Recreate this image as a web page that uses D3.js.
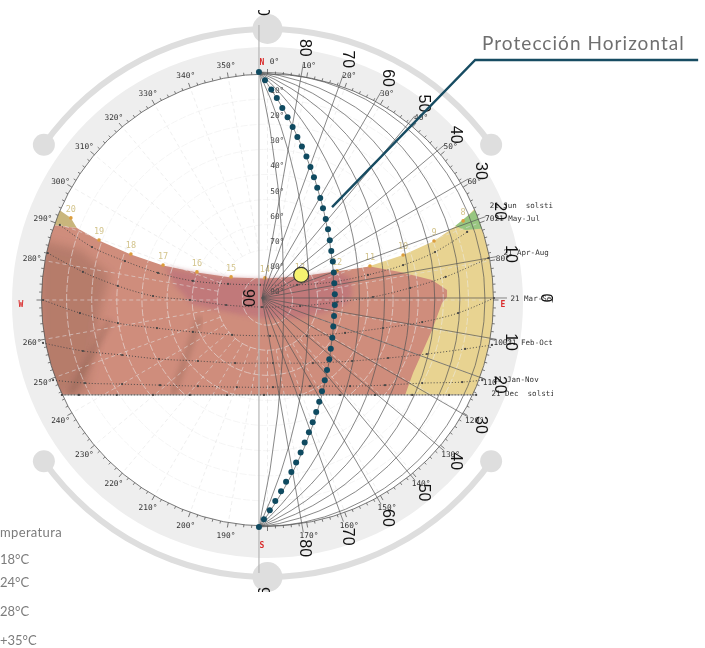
<!DOCTYPE html>
<html>
<head>
<meta charset="utf-8">
<script src="https://cdn.jsdelivr.net/npm/d3@7"></script>
<style>
  html, body { margin: 0; padding: 0; background: #fff; overflow: hidden; }
</style>
</head>
<body>
<div id="chart"></div>
<script>
const dateLabels = ["21 Jun  solstice", "21 May-Jul", "21 Apr-Aug", "21 Mar-Sep", "21 Feb-Oct", "21 Jan-Nov", "21 Dec  solstice"];
const dateLabelX = [88.5, 90.5, 94, 96.8, 95.6, 90, 89.2];
const dateLabelY = [36.6, 31.5, 17.9, -0.4, -17.9, -32.7, -38.2];

const hourLabels = [20, 19, 18, 17, 16, 15, 14, 13, 12, 11, 10, 9, 8];
const junPath = [[-78.3,32.7],[-67.1,23.9],[-54.4,18.3],[-41.6,13.9],[-28.1,11.2],[-14.5,9.2],[-1,8.8],[12.9,9.6],[27.7,11.6],[40.8,13.5],[54,17.9],[66.3,23.5],[77.9,31.5]];
const mayPath = [[-82.7,29.9],[-69.9,21.1],[-56.8,15.5],[-43.6,10.8],[-29.7,7.6],[-15.7,6.4],[-3,6],[11.8,6],[26.1,7.2],[40,10],[54,13.9],[66.7,19.1],[79.5,27.1]];
const aprPath = [[-87.5,18.7],[-73.5,11.2],[-59.6,5.6],[-45.6,1.6],[-30.9,0],[-16.5,-2],[-2.2,-2.8],[13,-2.4],[27.7,-0.8],[42,1.2],[56.8,4.8],[70.9,9.2],[88,16.7]];
const marPath = [[-89.4,0],[-74.7,-5.2],[-59.6,-9.2],[-44,-11.2],[-29.7,-12.7],[-14.1,-13.9],[1,-14.3],[15.7,-14.3],[30.9,-13.1],[46,-11.2],[61.6,-8.8],[75.9,-5.2],[90.2,0.8]];
const febPath = [[-89.4,-17.1],[-73.5,-20.3],[-57.9,-21.9],[-43.2,-23.5],[-27.7,-24.3],[-12.9,-25.1],[2.2,-25.1],[18.1,-25.1],[33.7,-24.3],[48,-23.1],[63.5,-21.5],[78.7,-19.5],[89.4,-17.9]];
const janPath = [[-85.4,-31.9],[-72.7,-33.1],[-57.9,-33.5],[-42.8,-33.9],[-27.7,-34.3],[-12.2,-34.7],[2.2,-34.7],[16.9,-34.3],[32.9,-34.3],[46.8,-33.9],[61.6,-33.1],[77.5,-32.7],[85.5,-31.9]];
const decPath = [[-81.9,-37.8],[-75.1,-37.8],[-60,-37.8],[-45.6,-37.8],[-30.9,-37.8],[-16.1,-37.8],[-1.4,-37.8],[12.9,-37.8],[28.9,-37.8],[42.8,-37.8],[57.6,-37.8],[72.3,-37.8],[83.1,-37.8]];

// the yellow only shows east of the red, so it stays under the red edge on the west side
const yellowZone = [[-80,20],[-54.4,16],[-28.1,9],[-1,7],[27.7,10],[40.8,13.5],[54,17.9],[66.3,23.5],[77.9,31.5],[84,38],[95,42],[95,-37.8],[-80,-37.8]];
const redZone = [[-94.6,29.9],[-85.4,29.9],[-75.9,28.7],[-67.1,23.7],[-54.4,18.1],[-41.6,13.7],[-28.1,11],[-14.5,9],[-1,8.6],[12.9,9.4],[27.7,11.4],[40.8,13.3],[52.8,11.2],[65.5,8],[71.5,4],[71.5,1.2],[69.5,-1.2],[65.5,-12],[60.8,-22.7],[58,-29],[54.8,-37.8],[-94.6,-37.8]];
const mauveZone = [[-40.8,13.1],[-28.1,10.7],[-14.5,8.7],[-1,8.3],[12.9,9.1],[27.7,11.1],[32.9,9.2],[33.7,2],[31.7,-1.2],[23.7,-4.8],[12.9,-7.2],[-3,-7.2],[-13.7,-5.2],[-29.7,-2],[-36.9,6]];
const greenZone = [[74.7,29.5],[82.7,35.9],[88.6,28.7],[78.7,27.9]];
const tanZone = [[-95,42],[-86,38],[-78.3,32.7],[-75.9,28.7],[-85.4,29.9],[-94.6,29.9]];
const darkShade = [[-90.6,23.9],[-74.7,19.9],[-62.7,10],[-66.7,-4],[-68.7,-19.9],[-72.7,-37.8],[-90.6,-37.8]];
const shadeStreaks = [[[-26.9,-6.8],[-37.7,-37.8]], [[-62.7,-8],[-78.7,-37.8]]];

// dotted "Proteccion Horizontal" curve
const protectionDots = [[-3.4,90.8],[-1,87.5],[1.5,83.8],[3.7,80.4],[5.9,76.5],[8,72.8],[10,68.9],[11.9,64.9],[13.7,61.1],[15.5,57.1],[17.1,53],[18.5,48.9],[19.8,44.7],[21,40.6],[22.1,36.5],[23.2,32.3],[24.1,28.2],[24.8,23.8],[25.4,19.5],[26,15.3],[26.4,11],[26.6,6.7],[26.8,2.3],[26.8,-2],[26.5,-6.4],[26.2,-10.6],[25.8,-15],[25.2,-19.4],[24.6,-23.6],[23.7,-27.9],[22.8,-32],[21.7,-36.3],[20.6,-40.5],[19.4,-44.6],[18,-48.7],[16.5,-52.7],[14.8,-56.7],[13.2,-60.7],[11.4,-64.7],[9.5,-68.5],[7.4,-72.4],[5.4,-76.2],[3.1,-80],[0.9,-83.7],[-1.4,-87.3],[-3.4,-90.4]];

const azimuthLabels = d3.range(0, 360, 10).filter(d => d !== 90 && d !== 180 && d !== 270);
const compassLabels = ["N", "E", "S", "W"];
const altitudeLabels = [10, 20, 30, 40, 50, 60, 70, 80, 90];
const protractorAngles = [80, 70, 60, 50, 40, 30, 20, 10, 0, -10, -20, -30, -40, -50, -60, -70, -80];
const arcCrossings = [10, 20, 30, 40, 50, 60, 70, 80, 90];
const gridCircles = [10, 20, 30, 40, 50, 60, 70, 80];
const legendLabels = ["18°C", "24°C", "28°C", "+35°C"];
const legendY = [564, 587, 616, 645];

const width = 705;
const height = 648;
const cx = 267.5;
const cy = 300;
const chartR = 226;

const x = d3.scaleLinear().domain([-90, 90]).range([cx - chartR, cx + chartR]);
const y = d3.scaleLinear().domain([-90, 90]).range([cy + chartR, cy - chartR]);
const r = d3.scaleLinear().domain([0, 90]).range([0, chartR]);

// protractor overlay sits a little off the main chart centre
const overlayX = x(-2.2);
const overlayY = y(0.8);
const northX = x(-3.4);

const svg = d3.select("#chart")
    .append("svg")
    .attr("width", width)
    .attr("height", height)
    .style("display", "block");

const defs = svg.append("defs");
defs.append("clipPath").attr("id", "disc")
    .append("circle").attr("cx", cx).attr("cy", cy).attr("r", chartR);
defs.append("clipPath").attr("id", "aboveDec")
    .append("rect").attr("x", 0).attr("y", 0).attr("width", width).attr("height", y(-37.8));
defs.append("clipPath").attr("id", "page")
    .append("rect").attr("x", 0).attr("y", 10).attr("width", 553).attr("height", 582);
defs.append("filter").attr("id", "soft4").append("feGaussianBlur").attr("stdDeviation", 5);
defs.append("filter").attr("id", "soft2").append("feGaussianBlur").attr("stdDeviation", 2.5);
defs.append("filter").attr("id", "soft1").append("feGaussianBlur").attr("stdDeviation", 0.7);
defs.append("filter").attr("id", "raster").append("feGaussianBlur").attr("stdDeviation", 0.3);

// outer handles and arcs
const outerR = 274;
const outerCy = 303;
const arcGen = d3.arc().innerRadius(outerR - 3).outerRadius(outerR + 3);
const handleAngle = 54.7 * Math.PI / 180;
const handles = svg.append("g").attr("transform", `translate(${cx},${outerCy})`).attr("fill", "#dedede");
handles.append("path").attr("d", arcGen({ startAngle: -handleAngle, endAngle: handleAngle }));
handles.append("path").attr("d", arcGen({ startAngle: Math.PI - handleAngle, endAngle: Math.PI + handleAngle }));
[0, Math.PI].forEach(a => {
    handles.append("circle").attr("cx", 0).attr("cy", -outerR * Math.cos(a)).attr("r", 15);
});
[-handleAngle, handleAngle, Math.PI - handleAngle, Math.PI + handleAngle].forEach(a => {
    handles.append("circle").attr("cx", outerR * Math.sin(a)).attr("cy", -outerR * Math.cos(a)).attr("r", 11);
});

// light ring
svg.append("circle").attr("cx", cx).attr("cy", cy + 2.5).attr("r", 255.5).attr("fill", "#eeeeee");
svg.append("circle").attr("cx", cx).attr("cy", cy).attr("r", chartR).attr("fill", "#fff");

const chart = svg.append("g").attr("filter", "url(#raster)");
const zonesOuter = chart.append("g").attr("clip-path", "url(#aboveDec)");
const zones = zonesOuter.append("g").attr("clip-path", "url(#disc)");
const poly = d3.line().x(d => x(d[0])).y(d => y(d[1]));

zones.append("path").attr("d", poly(yellowZone) + "Z").attr("fill", "#e8d391");
zones.append("path").attr("d", poly(tanZone) + "Z").attr("fill", "#c9b67b");
zones.append("path").attr("d", poly(greenZone) + "Z").attr("fill", "#98c680");
zones.append("path").attr("d", poly(redZone) + "Z").attr("fill", "#cf8d7b").attr("filter", "url(#soft1)");
zones.append("path").attr("d", poly(mauveZone) + "Z").attr("fill", "#bb717a").attr("filter", "url(#soft2)").attr("opacity", 0.7);
zones.append("path").attr("d", poly(darkShade) + "Z").attr("fill", "#7d5546").attr("filter", "url(#soft4)").attr("opacity", 0.3);
shadeStreaks.forEach(s => {
    zones.append("path").attr("d", poly(s))
        .attr("fill", "none")
        .attr("stroke", "#6d4c40")
        .attr("stroke-width", 7)
        .attr("opacity", 0.22)
        .attr("filter", "url(#soft2)");
});
// zones stop at the Dec path, everything under it stays white
chart.append("line")
    .attr("x1", x(-81.9)).attr("x2", x(83.1))
    .attr("y1", y(-37.8)).attr("y2", y(-37.8))
    .attr("stroke", "#9a9a9a").attr("stroke-width", 1);

// dashed base grid
const grid = chart.append("g").attr("clip-path", "url(#disc)").attr("fill", "none");
gridCircles.forEach(d => {
    grid.append("circle").attr("cx", cx).attr("cy", cy).attr("r", r(d))
        .attr("stroke", "#ececec").attr("stroke-width", 1).attr("stroke-dasharray", "7,2").attr("opacity", 0.55);
});
d3.range(0, 360, 10).forEach(d => {
    const a = d * Math.PI / 180;
    grid.append("line")
        .attr("x1", cx + r(20) * Math.sin(a)).attr("y1", cy - r(20) * Math.cos(a))
        .attr("x2", cx + chartR * Math.sin(a)).attr("y2", cy - chartR * Math.cos(a))
        .attr("stroke", "#e2e2e2").attr("stroke-width", 1).attr("stroke-dasharray", "4,3").attr("opacity", 0.55);
});

// rim and ticks
chart.append("circle").attr("cx", cx).attr("cy", cy).attr("r", chartR)
    .attr("fill", "none").attr("stroke", "#555").attr("stroke-width", 0.8);
d3.range(0, 360, 2).forEach(d => {
    const a = d * Math.PI / 180;
    const len = d % 10 === 0 ? 5 : 2.5;
    chart.append("line")
        .attr("x1", cx + chartR * Math.sin(a)).attr("y1", cy - chartR * Math.cos(a))
        .attr("x2", cx + (chartR + len) * Math.sin(a)).attr("y2", cy - (chartR + len) * Math.cos(a))
        .attr("stroke", "#444").attr("stroke-width", 0.7);
});

// sun paths
const curve = d3.line().x(d => x(d[0])).y(d => y(d[1])).curve(d3.curveCatmullRom);
const allPaths = [junPath, mayPath, aprPath, marPath, febPath, janPath, decPath];
allPaths.forEach((p, i) => {
    if (i > 0) {
        chart.append("path").attr("d", curve(p))
            .attr("fill", "none").attr("stroke", "#444").attr("stroke-width", 0.9).attr("stroke-dasharray", "1,2");
        chart.selectAll(null).data(p).join("circle")
            .attr("cx", d => x(d[0])).attr("cy", d => y(d[1])).attr("r", 1.1).attr("fill", "#444");
    }
});
chart.selectAll(null).data(junPath).join("circle")
    .attr("cx", d => x(d[0])).attr("cy", d => y(d[1])).attr("r", 1.8).attr("fill", "#dc9d3c");
chart.selectAll(null).data(junPath).join("text")
    .attr("x", d => x(d[0]))
    .attr("y", d => y(d[1]) - 6)
    .attr("text-anchor", "middle")
    .attr("font-family", "'DejaVu Sans Mono', monospace")
    .attr("font-size", 8.5)
    .attr("fill", "#d3c48c")
    .text((d, i) => hourLabels[i]);

// azimuth labels
chart.selectAll(null).data(azimuthLabels).join("text")
    .attr("x", d => cx + (d === 0 ? 7 : 0) + 239 * Math.sin(d * Math.PI / 180))
    .attr("y", d => cy + 3 - 239 * Math.cos(d * Math.PI / 180))
    .attr("text-anchor", "middle")
    .attr("font-family", "'DejaVu Sans Mono', monospace")
    .attr("font-size", 7.8)
    .attr("fill", "#333")
    .text(d => d + "°");
chart.selectAll(null).data(compassLabels).join("text")
    .attr("x", (d, i) => [cx - 5.5, cx + 235.5, cx - 5.5, cx - 246.5][i])
    .attr("y", (d, i) => cy + 3 - [238, -4, -245, -4][i])
    .attr("text-anchor", "middle")
    .attr("font-family", "'DejaVu Sans Mono', monospace")
    .attr("font-size", 8)
    .attr("font-weight", "bold")
    .attr("fill", "#d92b2b")
    .text(d => d);

// altitude labels along the north line
chart.selectAll(null).data(altitudeLabels).join("text")
    .attr("x", x(3.9))
    .attr("y", d => y(93.6 - d) + 3)
    .attr("text-anchor", "middle")
    .attr("font-family", "'DejaVu Sans Mono', monospace")
    .attr("font-size", 7.8)
    .attr("fill", "#444")
    .text(d => d + "°");

// date labels, cut by the edge of the image they came from
const labelsGroup = svg.append("g").attr("clip-path", "url(#page)").attr("filter", "url(#raster)");
labelsGroup.selectAll(null).data(dateLabels).join("text")
    .attr("x", (d, i) => x(dateLabelX[i]))
    .attr("y", (d, i) => y(dateLabelY[i]))
    .attr("font-family", "'DejaVu Sans Mono', monospace")
    .attr("font-size", 7.5)
    .attr("fill", "#333")
    .style("white-space", "pre")
    .text(d => d);

// protractor overlay: radial lines and N-S arcs
const overlay = svg.append("g").attr("fill", "none");
protractorAngles.forEach(a => {
    const rad = a * Math.PI / 180;
    const len = a === 0 ? 245 : 238;
    overlay.append("line")
        .attr("x1", overlayX).attr("y1", overlayY)
        .attr("x2", overlayX + len * Math.cos(rad))
        .attr("y2", overlayY - len * Math.sin(rad))
        .attr("stroke", "#555").attr("stroke-width", 0.7);
});
const north = y(90.8);
const south = y(-90.4);
const halfH = (south - north) / 2;
arcCrossings.forEach(d => {
    const dx = x(d) - x(0);
    const rr = (halfH * halfH + dx * dx) / (2 * dx);
    overlay.append("path")
        .attr("d", `M${northX},${north}A${rr},${rr} 0 0 1 ${northX},${south}`)
        .attr("stroke", "#555").attr("stroke-width", 0.7);
});
overlay.append("line")
    .attr("x1", northX).attr("x2", northX)
    .attr("y1", 25).attr("y2", 573)
    .attr("stroke", "#b5b5b5").attr("stroke-width", 1.2);

// protractor numbers
const protractorText = svg.append("g").attr("clip-path", "url(#page)");
const numberFont = "'Liberation Sans', Arial, sans-serif";
function protractorLabel(px, py, label) {
    protractorText.append("text")
        .attr("transform", `translate(${px},${py}) rotate(90)`)
        .attr("text-anchor", "middle")
        .attr("dy", "0.36em")
        .attr("font-family", numberFont)
        .attr("font-size", 16)
        .attr("fill", "#111")
        .text(label);
}
protractorAngles.forEach(a => {
    const rad = a * Math.PI / 180;
    const lr = a === 0 ? 285 : 254;
    protractorLabel(overlayX + lr * Math.cos(rad), overlayY - lr * Math.sin(rad), Math.abs(a));
});
[overlayY - 291, overlayY, overlayY + 298].forEach((py, i) => {
    protractorLabel(i === 1 ? overlayX - 13 : overlayX + 2, py, 90);
});

// protection curve
svg.selectAll(null).data(protectionDots).join("circle")
    .attr("cx", d => x(d[0]))
    .attr("cy", d => y(d[1]))
    .attr("r", 3)
    .attr("fill", "#0f4a60");

// the sun
svg.append("circle")
    .attr("cx", x(13.4))
    .attr("cy", y(10))
    .attr("r", 7.5)
    .attr("fill", "#f6f270")
    .attr("stroke", "#333")
    .attr("stroke-width", 1.2);

// callout
svg.append("polyline")
    .attr("points", [[x(25.7), y(37)], [x(82.7), y(95.6)], [x(171.5), y(95.6)]].join(" "))
    .attr("fill", "none")
    .attr("stroke", "#174c62")
    .attr("stroke-width", 2.4);
svg.append("text")
    .attr("x", 482)
    .attr("y", 50)
    .attr("font-family", "Lato, sans-serif")
    .attr("font-size", 19)
    .attr("letter-spacing", 1.05)
    .attr("fill", "#6f6f6f")
    .text("Protección Horizontal");

// legend, pushed off the left edge in the original
svg.append("text")
    .attr("x", 62)
    .attr("y", 537)
    .attr("text-anchor", "end")
    .attr("font-family", "Lato, sans-serif")
    .attr("font-size", 13)
    .attr("letter-spacing", 0.35)
    .attr("fill", "#7c7c7c")
    .text("Temperatura");
svg.selectAll(null).data(legendLabels).join("text")
    .attr("x", 0)
    .attr("y", (d, i) => legendY[i])
    .attr("font-family", "Lato, sans-serif")
    .attr("font-size", 13)
    .attr("fill", "#7c7c7c")
    .text(d => d);
</script>
</body>
</html>
